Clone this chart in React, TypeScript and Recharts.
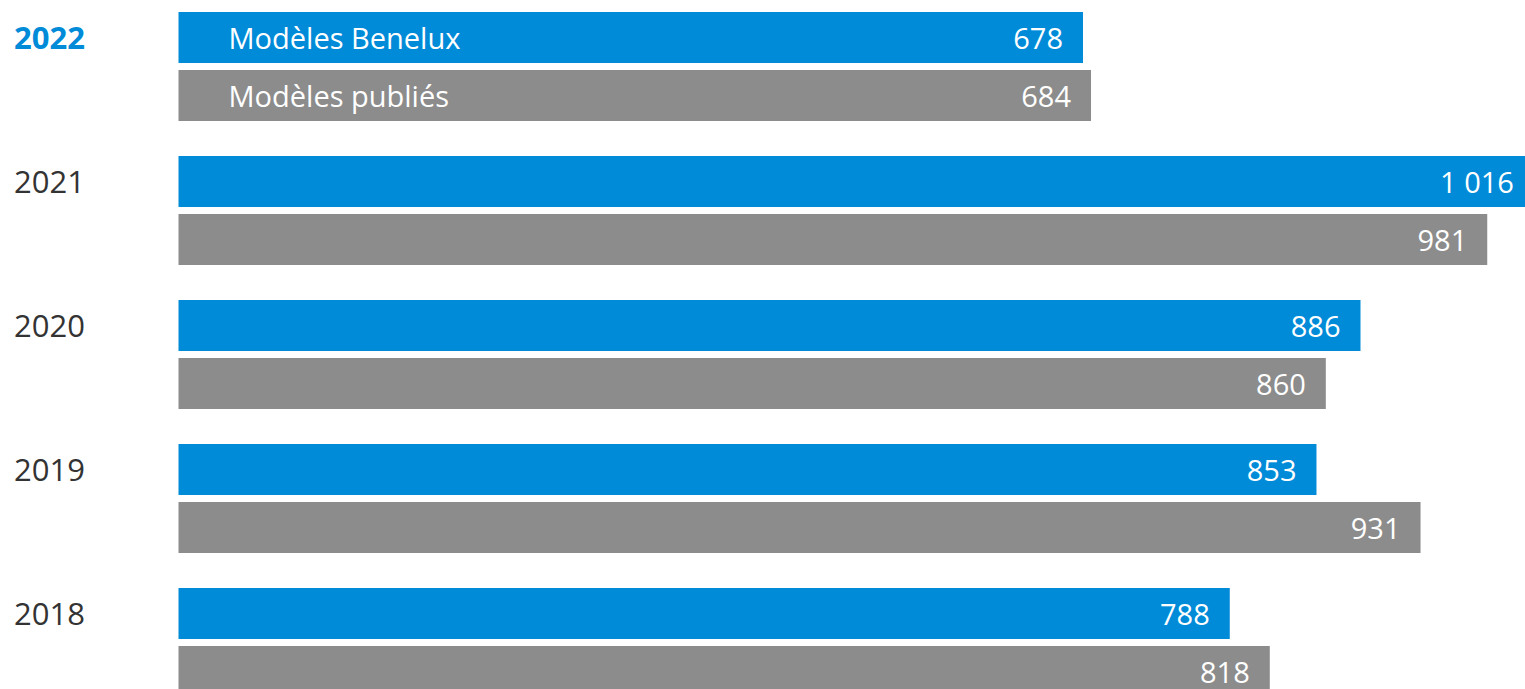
import { Bar, BarChart, LabelList, XAxis, YAxis } from "recharts";

const years = ["2022", "2021", "2020", "2019", "2018"];
const benelux = [678, 1016, 886, 853, 788];
const publies = [684, 981, 860, 931, 818];
const seriesNames = ["Modèles Benelux", "Modèles publiés"];

const BLUE = "#008bd9";
const GREY = "#8c8c8c";
const FONT = "'Open Sans', sans-serif";

const data = years.map((year, i) => ({
    year,
    benelux: benelux[i],
    publies: publies[i],
}));

const formatValue = (v: number) =>
    String(v).replace(/\B(?=(\d{3})+(?!\d))/g, " ");

function YearTick({ y, payload, index }: any) {
    const first = index === 0;
    return (
        <text
            x={14}
            y={y - 29}
            dominantBaseline="central"
            fontFamily={FONT}
            fontSize={31}
            fontWeight={first ? 700 : 400}
            fill={first ? BLUE : "#333333"}
        >
            {payload.value}
        </text>
    );
}

function makeLabel(name: string) {
    return function BarLabel({ x, y, width, height, value, index }: any) {
        const cy = y + height / 2;
        return (
            <g fontFamily={FONT} fontSize={29} fill="#ffffff">
                {index === 0 && (
                    <text x={x + 50} y={cy} dominantBaseline="central">
                        {name}
                    </text>
                )}
                <text x={x + width - 20} y={cy} textAnchor="end" dominantBaseline="central">
                    {formatValue(value)}
                </text>
            </g>
        );
    };
}

export default function App() {
    return (
        <div
            style={{
                position: "fixed",
                left: 0,
                top: 0,
                width: 1525,
                height: 689,
                overflow: "hidden",
                background: "#ffffff",
            }}
        >
            <div style={{ position: "absolute", left: 0, top: -6.5 }}>
                <BarChart
                    width={1646}
                    height={720}
                    data={data}
                    layout="vertical"
                    margin={{ top: 0, right: 0, bottom: 0, left: 0 }}
                    barSize={51}
                    barGap={7}
                >
                    <XAxis type="number" domain={[0, 1100]} hide />
                    <YAxis
                        type="category"
                        dataKey="year"
                        width={178.5}
                        axisLine={false}
                        tickLine={false}
                        tick={<YearTick />}
                    />
                    <Bar dataKey="benelux" fill={BLUE} isAnimationActive={false}>
                        <LabelList dataKey="benelux" content={makeLabel(seriesNames[0])} />
                    </Bar>
                    <Bar dataKey="publies" fill={GREY} isAnimationActive={false}>
                        <LabelList dataKey="publies" content={makeLabel(seriesNames[1])} />
                    </Bar>
                </BarChart>
            </div>
        </div>
    );
}
